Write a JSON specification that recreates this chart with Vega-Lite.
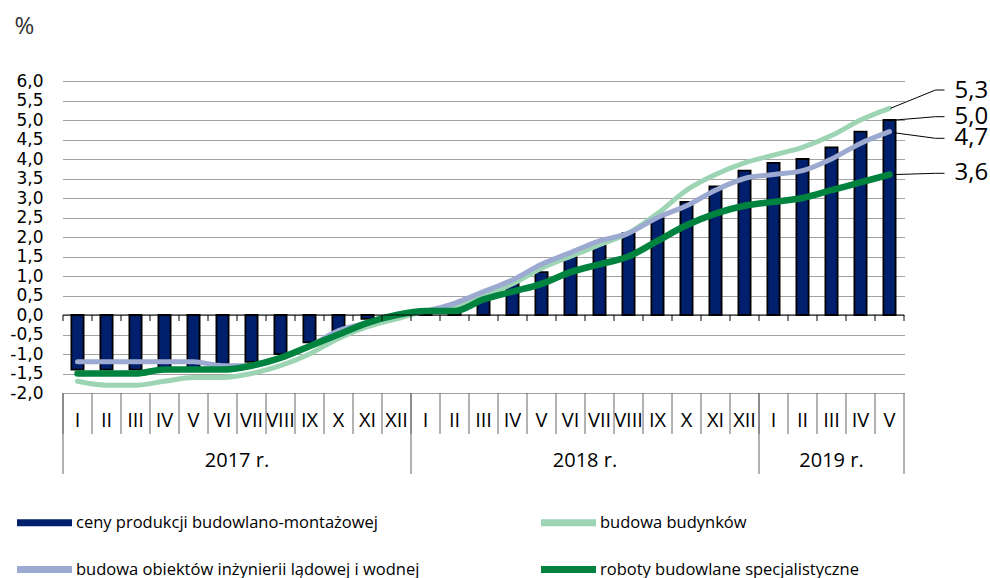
{
  "$schema": "https://vega.github.io/schema/vega-lite/v6.json",
  "width": 841,
  "height": 312,
  "autosize": {"type": "none"},
  "padding": {"left": 63, "top": 81, "right": 86, "bottom": 185},
  "background": "white",
  "config": {
    "view": {"stroke": null},
    "font": "Open Sans",
    "locale": {"number": {"decimal": ",", "thousands": " ", "grouping": [3], "currency": ["", " zł"], "minus": "-"}}
  },
  "resolve": {"axis": {"x": "independent", "y": "independent"}},
  "datasets": {
    "main": [
      {"m": "2017-01", "s": "ceny produkcji budowlano-montażowej", "v": -1.4},
      {"m": "2017-02", "s": "ceny produkcji budowlano-montażowej", "v": -1.4},
      {"m": "2017-03", "s": "ceny produkcji budowlano-montażowej", "v": -1.4},
      {"m": "2017-04", "s": "ceny produkcji budowlano-montażowej", "v": -1.4},
      {"m": "2017-05", "s": "ceny produkcji budowlano-montażowej", "v": -1.4},
      {"m": "2017-06", "s": "ceny produkcji budowlano-montażowej", "v": -1.3},
      {"m": "2017-07", "s": "ceny produkcji budowlano-montażowej", "v": -1.2},
      {"m": "2017-08", "s": "ceny produkcji budowlano-montażowej", "v": -1.0},
      {"m": "2017-09", "s": "ceny produkcji budowlano-montażowej", "v": -0.7},
      {"m": "2017-10", "s": "ceny produkcji budowlano-montażowej", "v": -0.4},
      {"m": "2017-11", "s": "ceny produkcji budowlano-montażowej", "v": -0.1},
      {"m": "2017-12", "s": "ceny produkcji budowlano-montażowej", "v": 0.0},
      {"m": "2018-01", "s": "ceny produkcji budowlano-montażowej", "v": 0.1},
      {"m": "2018-02", "s": "ceny produkcji budowlano-montażowej", "v": 0.1},
      {"m": "2018-03", "s": "ceny produkcji budowlano-montażowej", "v": 0.5},
      {"m": "2018-04", "s": "ceny produkcji budowlano-montażowej", "v": 0.8},
      {"m": "2018-05", "s": "ceny produkcji budowlano-montażowej", "v": 1.1},
      {"m": "2018-06", "s": "ceny produkcji budowlano-montażowej", "v": 1.5},
      {"m": "2018-07", "s": "ceny produkcji budowlano-montażowej", "v": 1.8},
      {"m": "2018-08", "s": "ceny produkcji budowlano-montażowej", "v": 2.1},
      {"m": "2018-09", "s": "ceny produkcji budowlano-montażowej", "v": 2.5},
      {"m": "2018-10", "s": "ceny produkcji budowlano-montażowej", "v": 2.9},
      {"m": "2018-11", "s": "ceny produkcji budowlano-montażowej", "v": 3.3},
      {"m": "2018-12", "s": "ceny produkcji budowlano-montażowej", "v": 3.7},
      {"m": "2019-01", "s": "ceny produkcji budowlano-montażowej", "v": 3.9},
      {"m": "2019-02", "s": "ceny produkcji budowlano-montażowej", "v": 4.0},
      {"m": "2019-03", "s": "ceny produkcji budowlano-montażowej", "v": 4.3},
      {"m": "2019-04", "s": "ceny produkcji budowlano-montażowej", "v": 4.7},
      {"m": "2019-05", "s": "ceny produkcji budowlano-montażowej", "v": 5.0},
      {"m": "2017-01", "s": "budowa budynków", "v": -1.7},
      {"m": "2017-02", "s": "budowa budynków", "v": -1.8},
      {"m": "2017-03", "s": "budowa budynków", "v": -1.8},
      {"m": "2017-04", "s": "budowa budynków", "v": -1.7},
      {"m": "2017-05", "s": "budowa budynków", "v": -1.6},
      {"m": "2017-06", "s": "budowa budynków", "v": -1.6},
      {"m": "2017-07", "s": "budowa budynków", "v": -1.5},
      {"m": "2017-08", "s": "budowa budynków", "v": -1.3},
      {"m": "2017-09", "s": "budowa budynków", "v": -1.0},
      {"m": "2017-10", "s": "budowa budynków", "v": -0.6},
      {"m": "2017-11", "s": "budowa budynków", "v": -0.3},
      {"m": "2017-12", "s": "budowa budynków", "v": -0.1},
      {"m": "2018-01", "s": "budowa budynków", "v": 0.1},
      {"m": "2018-02", "s": "budowa budynków", "v": 0.2},
      {"m": "2018-03", "s": "budowa budynków", "v": 0.5},
      {"m": "2018-04", "s": "budowa budynków", "v": 0.8},
      {"m": "2018-05", "s": "budowa budynków", "v": 1.2},
      {"m": "2018-06", "s": "budowa budynków", "v": 1.5},
      {"m": "2018-07", "s": "budowa budynków", "v": 1.8},
      {"m": "2018-08", "s": "budowa budynków", "v": 2.1},
      {"m": "2018-09", "s": "budowa budynków", "v": 2.6},
      {"m": "2018-10", "s": "budowa budynków", "v": 3.2},
      {"m": "2018-11", "s": "budowa budynków", "v": 3.6},
      {"m": "2018-12", "s": "budowa budynków", "v": 3.9},
      {"m": "2019-01", "s": "budowa budynków", "v": 4.1},
      {"m": "2019-02", "s": "budowa budynków", "v": 4.3},
      {"m": "2019-03", "s": "budowa budynków", "v": 4.6},
      {"m": "2019-04", "s": "budowa budynków", "v": 5.0},
      {"m": "2019-05", "s": "budowa budynków", "v": 5.3},
      {"m": "2017-01", "s": "budowa  obiektów inżynierii lądowej i wodnej", "v": -1.2},
      {"m": "2017-02", "s": "budowa  obiektów inżynierii lądowej i wodnej", "v": -1.2},
      {"m": "2017-03", "s": "budowa  obiektów inżynierii lądowej i wodnej", "v": -1.2},
      {"m": "2017-04", "s": "budowa  obiektów inżynierii lądowej i wodnej", "v": -1.2},
      {"m": "2017-05", "s": "budowa  obiektów inżynierii lądowej i wodnej", "v": -1.2},
      {"m": "2017-06", "s": "budowa  obiektów inżynierii lądowej i wodnej", "v": -1.3},
      {"m": "2017-07", "s": "budowa  obiektów inżynierii lądowej i wodnej", "v": -1.3},
      {"m": "2017-08", "s": "budowa  obiektów inżynierii lądowej i wodnej", "v": -1.1},
      {"m": "2017-09", "s": "budowa  obiektów inżynierii lądowej i wodnej", "v": -0.8},
      {"m": "2017-10", "s": "budowa  obiektów inżynierii lądowej i wodnej", "v": -0.4},
      {"m": "2017-11", "s": "budowa  obiektów inżynierii lądowej i wodnej", "v": -0.2},
      {"m": "2017-12", "s": "budowa  obiektów inżynierii lądowej i wodnej", "v": 0.0},
      {"m": "2018-01", "s": "budowa  obiektów inżynierii lądowej i wodnej", "v": 0.1},
      {"m": "2018-02", "s": "budowa  obiektów inżynierii lądowej i wodnej", "v": 0.3},
      {"m": "2018-03", "s": "budowa  obiektów inżynierii lądowej i wodnej", "v": 0.6},
      {"m": "2018-04", "s": "budowa  obiektów inżynierii lądowej i wodnej", "v": 0.9},
      {"m": "2018-05", "s": "budowa  obiektów inżynierii lądowej i wodnej", "v": 1.3},
      {"m": "2018-06", "s": "budowa  obiektów inżynierii lądowej i wodnej", "v": 1.6},
      {"m": "2018-07", "s": "budowa  obiektów inżynierii lądowej i wodnej", "v": 1.9},
      {"m": "2018-08", "s": "budowa  obiektów inżynierii lądowej i wodnej", "v": 2.1},
      {"m": "2018-09", "s": "budowa  obiektów inżynierii lądowej i wodnej", "v": 2.5},
      {"m": "2018-10", "s": "budowa  obiektów inżynierii lądowej i wodnej", "v": 2.8},
      {"m": "2018-11", "s": "budowa  obiektów inżynierii lądowej i wodnej", "v": 3.2},
      {"m": "2018-12", "s": "budowa  obiektów inżynierii lądowej i wodnej", "v": 3.5},
      {"m": "2019-01", "s": "budowa  obiektów inżynierii lądowej i wodnej", "v": 3.6},
      {"m": "2019-02", "s": "budowa  obiektów inżynierii lądowej i wodnej", "v": 3.7},
      {"m": "2019-03", "s": "budowa  obiektów inżynierii lądowej i wodnej", "v": 4.0},
      {"m": "2019-04", "s": "budowa  obiektów inżynierii lądowej i wodnej", "v": 4.4},
      {"m": "2019-05", "s": "budowa  obiektów inżynierii lądowej i wodnej", "v": 4.7},
      {"m": "2017-01", "s": "roboty budowlane specjalistyczne", "v": -1.5},
      {"m": "2017-02", "s": "roboty budowlane specjalistyczne", "v": -1.5},
      {"m": "2017-03", "s": "roboty budowlane specjalistyczne", "v": -1.5},
      {"m": "2017-04", "s": "roboty budowlane specjalistyczne", "v": -1.4},
      {"m": "2017-05", "s": "roboty budowlane specjalistyczne", "v": -1.4},
      {"m": "2017-06", "s": "roboty budowlane specjalistyczne", "v": -1.4},
      {"m": "2017-07", "s": "roboty budowlane specjalistyczne", "v": -1.3},
      {"m": "2017-08", "s": "roboty budowlane specjalistyczne", "v": -1.1},
      {"m": "2017-09", "s": "roboty budowlane specjalistyczne", "v": -0.8},
      {"m": "2017-10", "s": "roboty budowlane specjalistyczne", "v": -0.5},
      {"m": "2017-11", "s": "roboty budowlane specjalistyczne", "v": -0.2},
      {"m": "2017-12", "s": "roboty budowlane specjalistyczne", "v": 0.0},
      {"m": "2018-01", "s": "roboty budowlane specjalistyczne", "v": 0.1},
      {"m": "2018-02", "s": "roboty budowlane specjalistyczne", "v": 0.1},
      {"m": "2018-03", "s": "roboty budowlane specjalistyczne", "v": 0.4},
      {"m": "2018-04", "s": "roboty budowlane specjalistyczne", "v": 0.6},
      {"m": "2018-05", "s": "roboty budowlane specjalistyczne", "v": 0.8},
      {"m": "2018-06", "s": "roboty budowlane specjalistyczne", "v": 1.1},
      {"m": "2018-07", "s": "roboty budowlane specjalistyczne", "v": 1.3},
      {"m": "2018-08", "s": "roboty budowlane specjalistyczne", "v": 1.5},
      {"m": "2018-09", "s": "roboty budowlane specjalistyczne", "v": 1.9},
      {"m": "2018-10", "s": "roboty budowlane specjalistyczne", "v": 2.3},
      {"m": "2018-11", "s": "roboty budowlane specjalistyczne", "v": 2.6},
      {"m": "2018-12", "s": "roboty budowlane specjalistyczne", "v": 2.8},
      {"m": "2019-01", "s": "roboty budowlane specjalistyczne", "v": 2.9},
      {"m": "2019-02", "s": "roboty budowlane specjalistyczne", "v": 3.0},
      {"m": "2019-03", "s": "roboty budowlane specjalistyczne", "v": 3.2},
      {"m": "2019-04", "s": "roboty budowlane specjalistyczne", "v": 3.4},
      {"m": "2019-05", "s": "roboty budowlane specjalistyczne", "v": 3.6}
    ]
  },
  "data": {"name": "main"},
  "layer": [
    {
      "transform": [{"filter": "datum.s === 'ceny produkcji budowlano-montażowej'"}],
      "mark": {"type": "bar", "width": {"band": 0.42}, "stroke": "#000000", "strokeWidth": 1.8},
      "encoding": {
        "x": {
          "field": "m",
          "type": "ordinal",
          "scale": {"type": "band", "paddingInner": 0, "paddingOuter": 0},
          "axis": {
            "title": null,
            "domain": false,
            "grid": false,
            "ticks": false,
            "labelExpr": "['I','II','III','IV','V','VI','VII','VIII','IX','X','XI','XII'][toNumber(slice(datum.value,5))-1]",
            "labelAngle": 0,
            "labelFont": "Open Sans",
            "labelFontSize": 20,
            "labelColor": "#000000",
            "labelPadding": 17,
            "labelOverlap": false
          }
        },
        "y": {
          "field": "v",
          "type": "quantitative",
          "scale": {"domain": [-2, 6], "nice": false, "zero": false},
          "axis": {
            "values": [-2, -1.5, -1, -0.5, 0, 0.5, 1, 1.5, 2, 2.5, 3, 3.5, 4, 4.5, 5, 5.5, 6],
            "format": ".1f",
            "title": "%",
            "titleAngle": 0,
            "titleX": -49,
            "titleY": -55,
            "titleAlign": "left",
            "titleBaseline": "middle",
            "titleFont": "Open Sans",
            "titleFontSize": 24,
            "titleFontWeight": "normal",
            "titleColor": "#333333",
            "labelFont": "DejaVu Sans",
            "labelFontSize": 17,
            "labelColor": "#000000",
            "labelPadding": 20,
            "labelOverlap": false,
            "ticks": false,
            "domain": false,
            "grid": true,
            "gridDash": [1, 1],
            "gridColor": "#444444",
            "gridWidth": 1
          }
        },
        "color": {
          "field": "s",
          "type": "nominal",
          "scale": {
            "domain": ["ceny produkcji budowlano-montażowej", "budowa budynków", "budowa  obiektów inżynierii lądowej i wodnej", "roboty budowlane specjalistyczne"],
            "range": ["#00206E", "#9DD4B4", "#9CA9D0", "#00833F"]
          },
          "legend": {
            "orient": "none",
            "legendX": -46,
            "legendY": 428,
            "direction": "horizontal",
            "columns": 2,
            "columnPadding": 103,
            "rowPadding": 18,
            "title": null,
            "labelFont": "Open Sans",
            "labelFontSize": 16.5,
            "labelColor": "#000000",
            "labelLimit": 600,
            "labelOffset": 32,
            "symbolType": "M-1.35,0H4.15",
            "symbolSize": 400,
            "symbolStrokeWidth": 7,
            "symbolOpacity": 1
          }
        }
      }
    },
    {
      "transform": [{"filter": "datum.s === 'budowa budynków' || datum.s === 'budowa  obiektów inżynierii lądowej i wodnej'"}],
      "mark": {"type": "line", "interpolate": "monotone", "strokeWidth": 5, "strokeCap": "round"},
      "encoding": {
        "x": {"field": "m", "type": "ordinal", "axis": null},
        "y": {"field": "v", "type": "quantitative", "axis": null},
        "color": {"field": "s", "type": "nominal"}
      }
    },
    {
      "transform": [{"filter": "datum.s === 'roboty budowlane specjalistyczne'"}],
      "mark": {"type": "line", "interpolate": "monotone", "strokeWidth": 6.5, "strokeCap": "round"},
      "encoding": {
        "x": {"field": "m", "type": "ordinal", "axis": null},
        "y": {"field": "v", "type": "quantitative", "axis": null},
        "color": {"field": "s", "type": "nominal"}
      }
    },
    {
      "transform": [{"filter": "datum.s === 'ceny produkcji budowlano-montażowej' && datum.m === '2017-01'"}],
      "mark": {"type": "rule", "color": "#000000", "strokeWidth": 1},
      "encoding": {"y": {"datum": 0, "axis": null}}
    },
    {
      "transform": [{"filter": "datum.s === 'ceny produkcji budowlano-montażowej'"}],
      "layer": [
        {
          "mark": {"type": "rule", "color": "#000000", "strokeWidth": 1, "y2Offset": 6},
          "encoding": {
            "x": {"field": "m", "type": "ordinal", "bandPosition": 0, "axis": null},
            "y": {"datum": 0, "axis": null},
            "y2": {"datum": 0}
          }
        },
        {
          "mark": {"type": "rule", "color": "#666666", "strokeWidth": 1, "y2Offset": 41},
          "encoding": {
            "x": {"field": "m", "type": "ordinal", "bandPosition": 0, "axis": null},
            "y": {"datum": -2, "axis": null},
            "y2": {"datum": -2}
          }
        }
      ]
    },
    {
      "transform": [{"filter": "datum.s === 'ceny produkcji budowlano-montażowej' && datum.m === '2019-05'"}],
      "layer": [
        {
          "mark": {"type": "rule", "color": "#000000", "strokeWidth": 1, "y2Offset": 6},
          "encoding": {
            "x": {"field": "m", "type": "ordinal", "bandPosition": 1, "axis": null},
            "y": {"datum": 0, "axis": null},
            "y2": {"datum": 0}
          }
        },
        {
          "mark": {"type": "rule", "color": "#666666", "strokeWidth": 1, "y2Offset": 81},
          "encoding": {
            "x": {"field": "m", "type": "ordinal", "bandPosition": 1, "axis": null},
            "y": {"datum": -2, "axis": null},
            "y2": {"datum": -2}
          }
        }
      ]
    },
    {
      "data": {"values": [
        {"year": "2017 r.", "first": "2017-01", "center": "2017-07"},
        {"year": "2018 r.", "first": "2018-01", "center": "2018-07"},
        {"year": "2019 r.", "first": "2019-01", "center": "2019-03"}
      ]},
      "layer": [
        {
          "mark": {"type": "rule", "color": "#666666", "strokeWidth": 1, "y2Offset": 81},
          "encoding": {
            "x": {"field": "first", "type": "ordinal", "bandPosition": 0, "axis": null},
            "y": {"datum": -2, "axis": null},
            "y2": {"datum": -2}
          }
        },
        {
          "transform": [{"filter": "datum.year !== '2019 r.'"}],
          "mark": {"type": "text", "font": "Open Sans", "fontSize": 20, "color": "#000000", "align": "center", "baseline": "middle", "dy": 68},
          "encoding": {
            "x": {"field": "center", "type": "ordinal", "bandPosition": 0, "axis": null},
            "y": {"datum": -2, "axis": null},
            "text": {"field": "year"}
          }
        },
        {
          "transform": [{"filter": "datum.year === '2019 r.'"}],
          "mark": {"type": "text", "font": "Open Sans", "fontSize": 20, "color": "#000000", "align": "center", "baseline": "middle", "dy": 68},
          "encoding": {
            "x": {"field": "center", "type": "ordinal", "bandPosition": 0.5, "axis": null},
            "y": {"datum": -2, "axis": null},
            "text": {"field": "year"}
          }
        }
      ]
    },
    {
      "transform": [{"filter": "datum.m === '2019-05' && datum.s === 'budowa budynków'"}],
      "encoding": {
        "x": {"field": "m", "type": "ordinal", "axis": null},
        "y": {"field": "v", "type": "quantitative", "axis": null}
      },
      "layer": [
        {"mark": {"type": "rule", "color": "#000000", "strokeWidth": 1, "xOffset": 1, "x2Offset": 46, "y2Offset": -18.3},
         "encoding": {"x2": {"field": "m"}, "y2": {"field": "v"}}},
        {"mark": {"type": "rule", "color": "#000000", "strokeWidth": 1, "xOffset": 46, "x2Offset": 55, "yOffset": -18.3, "y2Offset": -18.3},
         "encoding": {"x2": {"field": "m"}, "y2": {"field": "v"}}},
        {"mark": {"type": "text", "font": "Open Sans", "fontSize": 24, "color": "#000000", "align": "left", "baseline": "middle", "dx": 65, "dy": -17.6},
         "encoding": {"text": {"field": "v", "type": "quantitative", "format": ".1f"}}}
      ]
    },
    {
      "transform": [{"filter": "datum.m === '2019-05' && datum.s === 'ceny produkcji budowlano-montażowej'"}],
      "encoding": {
        "x": {"field": "m", "type": "ordinal", "axis": null},
        "y": {"field": "v", "type": "quantitative", "axis": null}
      },
      "layer": [
        {"mark": {"type": "rule", "color": "#000000", "strokeWidth": 1, "xOffset": 6, "x2Offset": 46, "y2Offset": -3.3},
         "encoding": {"x2": {"field": "m"}, "y2": {"field": "v"}}},
        {"mark": {"type": "rule", "color": "#000000", "strokeWidth": 1, "xOffset": 46, "x2Offset": 55, "yOffset": -3.3, "y2Offset": -3.3},
         "encoding": {"x2": {"field": "m"}, "y2": {"field": "v"}}},
        {"mark": {"type": "text", "font": "Open Sans", "fontSize": 24, "color": "#000000", "align": "left", "baseline": "middle", "dx": 65, "dy": -3.3},
         "encoding": {"text": {"field": "v", "type": "quantitative", "format": ".1f"}}}
      ]
    },
    {
      "transform": [{"filter": "datum.m === '2019-05' && datum.s === 'budowa  obiektów inżynierii lądowej i wodnej'"}],
      "encoding": {
        "x": {"field": "m", "type": "ordinal", "axis": null},
        "y": {"field": "v", "type": "quantitative", "axis": null}
      },
      "layer": [
        {"mark": {"type": "rule", "color": "#000000", "strokeWidth": 1, "xOffset": 4, "x2Offset": 46, "yOffset": 1, "y2Offset": 6.6},
         "encoding": {"x2": {"field": "m"}, "y2": {"field": "v"}}},
        {"mark": {"type": "rule", "color": "#000000", "strokeWidth": 1, "xOffset": 46, "x2Offset": 55, "yOffset": 6.6, "y2Offset": 6.6},
         "encoding": {"x2": {"field": "m"}, "y2": {"field": "v"}}},
        {"mark": {"type": "text", "font": "Open Sans", "fontSize": 24, "color": "#000000", "align": "left", "baseline": "middle", "dx": 65, "dy": 6.6},
         "encoding": {"text": {"field": "v", "type": "quantitative", "format": ".1f"}}}
      ]
    },
    {
      "transform": [{"filter": "datum.m === '2019-05' && datum.s === 'roboty budowlane specjalistyczne'"}],
      "encoding": {
        "x": {"field": "m", "type": "ordinal", "axis": null},
        "y": {"field": "v", "type": "quantitative", "axis": null}
      },
      "layer": [
        {"mark": {"type": "rule", "color": "#000000", "strokeWidth": 1, "xOffset": 4, "x2Offset": 46, "y2Offset": -1.3},
         "encoding": {"x2": {"field": "m"}, "y2": {"field": "v"}}},
        {"mark": {"type": "rule", "color": "#000000", "strokeWidth": 1, "xOffset": 46, "x2Offset": 55, "yOffset": -1.3, "y2Offset": -1.3},
         "encoding": {"x2": {"field": "m"}, "y2": {"field": "v"}}},
        {"mark": {"type": "text", "font": "Open Sans", "fontSize": 24, "color": "#000000", "align": "left", "baseline": "middle", "dx": 65, "dy": -1.3},
         "encoding": {"text": {"field": "v", "type": "quantitative", "format": ".1f"}}}
      ]
    }
  ]
}
